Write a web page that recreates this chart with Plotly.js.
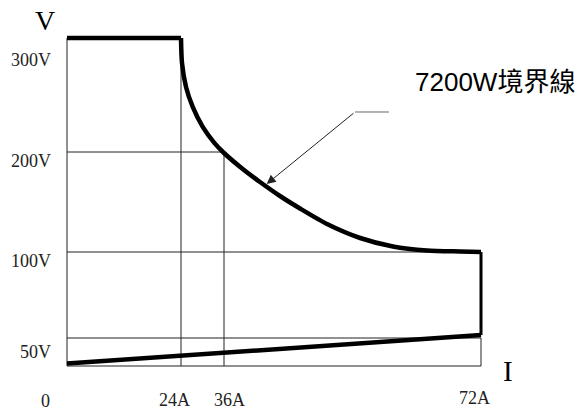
<!DOCTYPE html>
<html>
<head>
<meta charset="utf-8">
<script src="https://cdn.plot.ly/plotly-3.0.1.min.js"></script>
<style>html,body{margin:0;padding:0;background:#fff;}#chart{width:579px;height:416px;}</style>
</head>
<body>
<div id="chart"></div>
<script>
// ---- data ----
const currentTicks = [0, 24, 36, 72];
const currentTickLabels = ['0', '24A', '36A', '72A'];
const voltageTicks = [0, 50, 100, 200, 300];
const voltageTickLabels = ['', '50V', '100V', '200V', '300V'];

const flatCurrent = [0, 24];
const flatVoltage = [300, 300];
const curveCurrent = [24, 24.28, 25.4, 27.27, 30.06, 33.3, 36, 38.62, 41.04, 43.84, 46.65, 50.43, 55.07, 59.67, 64.44, 69.06, 72];
const curveVoltage = [300, 278, 257, 239.5, 222, 208, 199, 183, 170, 156, 143.5, 128, 114, 105.5, 101.5, 100.5, 100];
const dropCurrent = [72, 72];
const dropVoltage = [100, 51.7];
const floorCurrent = [0, 72];
const floorVoltage = [4.5, 51.7];

const guideCurrents = [24, 36, 72];
const guideCurrentTops = [300, 200, 50];
const guideVoltages = [200, 100, 50];
const guideVoltageEnds = [36, 72, 72];

const calloutCurrent = [59.1, 54.35, 41.98];
const calloutVoltage = [235.1, 235.1, 168];
const calloutText = '7200W境界線';
const calloutTextAt = [74.0, 261.4];

// ---- drawing scale of the schematic (non-linear, piecewise) ----
const xKnotsVal = [0, 24, 36, 72], xKnotsPos = [67, 181, 224, 481];
const yKnotsVal = [0, 50, 100, 200, 300], yKnotsPos = [366, 338, 252, 152, 38];
function pw(v, kv, kp) {
  let i = 0;
  while (i < kv.length - 2 && v > kv[i + 1]) i++;
  const t = (v - kv[i]) / (kv[i + 1] - kv[i]);
  return kp[i] + t * (kp[i + 1] - kp[i]);
}
const sx = v => pw(v, xKnotsVal, xKnotsPos);
const sy = v => pw(v, yKnotsVal, yKnotsPos);

const thin = {color: '#222', width: 1};
const thick = {color: '#000', width: 4.5};
const traces = [];

// axes + guides
let gx = [sx(0), sx(0), null, sx(0), sx(72), null], gy = [sy(0), sy(300), null, sy(0), sy(0), null];
guideCurrents.forEach((c, i) => { gx.push(sx(c), sx(c), null); gy.push(sy(0), sy(guideCurrentTops[i]), null); });
guideVoltages.forEach((v, i) => { gx.push(sx(0), sx(guideVoltageEnds[i]), null); gy.push(sy(v), sy(v), null); });
traces.push({x: gx, y: gy, mode: 'lines', line: thin, hoverinfo: 'skip', connectgaps: false});

traces.push({x: flatCurrent.map(sx), y: flatVoltage.map(sy), mode: 'lines', line: thick});
traces.push({x: curveCurrent.map(sx), y: curveVoltage.map(sy), mode: 'lines', line: Object.assign({shape: 'spline', smoothing: 0.7}, thick)});
traces.push({x: dropCurrent.map(sx), y: dropVoltage.map(sy), mode: 'lines', line: {color: '#000', width: 3}});
traces.push({x: floorCurrent.map(sx), y: floorVoltage.map(sy), mode: 'lines', line: thick});
traces.push({x: calloutCurrent.slice(0, 2).map(sx), y: calloutVoltage.slice(0, 2).map(sy), mode: 'lines', line: {color: '#666', width: 1}});

const serif = 'Liberation Serif, Times New Roman, serif';
const ann = [];
const yShift = [0, -14, -9, -9, -22];
voltageTicks.forEach((v, i) => {
  if (!voltageTickLabels[i]) return;
  ann.push({x: sx(0), y: sy(v), xref: 'x', yref: 'y', text: voltageTickLabels[i], showarrow: false,
    xanchor: 'right', yanchor: 'middle', xshift: -14, yshift: yShift[i], font: {family: serif, size: 18, color: '#222'}});
});
const xShift = [-22, -7, 5, -7];
const xYShift = [-35, -34, -34, -32];
currentTicks.forEach((c, i) => {
  ann.push({x: sx(c), y: sy(0), xref: 'x', yref: 'y', text: currentTickLabels[i], showarrow: false,
    xanchor: 'center', yanchor: 'middle', xshift: xShift[i], yshift: xYShift[i], font: {family: serif, size: 18, color: '#222'}});
});
ann.push({x: sx(0), y: sy(300), xref: 'x', yref: 'y', text: 'V', showarrow: false, xanchor: 'center', yanchor: 'middle',
  xshift: -22, yshift: 18, font: {family: serif, size: 28, color: '#000'}});
ann.push({x: sx(72), y: sy(0), xref: 'x', yref: 'y', text: 'I', showarrow: false, xanchor: 'center', yanchor: 'middle',
  xshift: 27, yshift: -5, font: {family: serif, size: 29, color: '#000'}});
// callout arrow
ann.push({x: sx(calloutCurrent[2]), y: sy(calloutVoltage[2]), xref: 'x', yref: 'y',
  ax: sx(calloutCurrent[1]), ay: sy(calloutVoltage[1]), axref: 'x', ayref: 'y', text: '', showarrow: true,
  arrowhead: 2, arrowsize: 1.8, arrowwidth: 1, arrowcolor: '#222', standoff: 0});
ann.push({x: sx(calloutTextAt[0]), y: sy(calloutTextAt[1]), xref: 'x', yref: 'y', text: calloutText, showarrow: false,
  xanchor: 'center', yanchor: 'middle', font: {family: 'Liberation Sans, Arial, "Noto Sans CJK TC", sans-serif', size: 26, color: '#000'}});

const layout = {
  width: 579, height: 416, margin: {l: 0, r: 0, t: 0, b: 0},
  paper_bgcolor: '#fff', plot_bgcolor: '#fff', showlegend: false,
  xaxis: {range: [0, 579], visible: false, fixedrange: true},
  yaxis: {range: [416, 0], visible: false, fixedrange: true},
  annotations: ann
};
Plotly.newPlot('chart', traces, layout, {staticPlot: true, displayModeBar: false});
</script>
</body>
</html>
